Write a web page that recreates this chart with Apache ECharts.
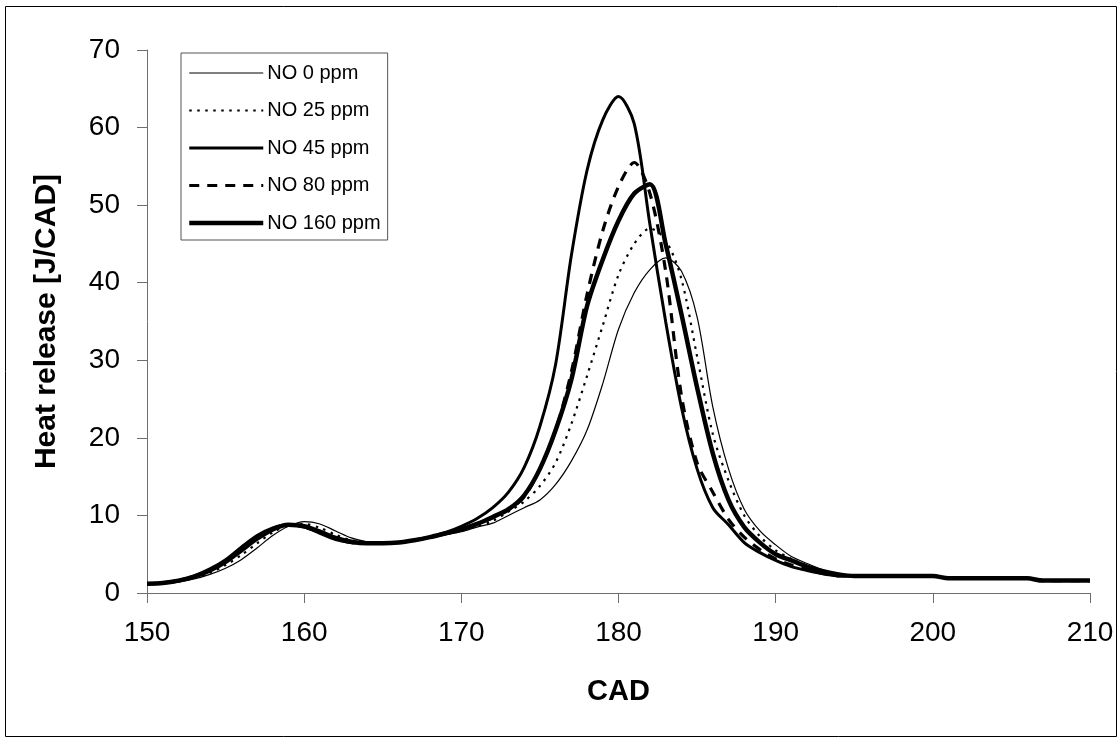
<!DOCTYPE html>
<html>
<head>
<meta charset="utf-8">
<script src="https://cdn.jsdelivr.net/npm/echarts@6/dist/echarts.min.js"></script>
<style>
html,body{margin:0;padding:0;background:#fff;}
#main{width:1120px;height:738px;}
</style>
</head>
<body>
<div id="main"></div>
<script>
// CAD positions (x values)
var cad = [];
for (var c = 150; c <= 210; c++) cad.push(c);

var tail = [2.2,2.2,2.2,2.2,2.2,2.2, 1.9,1.9,1.9,1.9,1.9,1.9, 1.6,1.6,1.6,1.6]; // 195..210

var no0 = [1.2,1.2,1.4,1.8,2.4,3.2,4.3,5.8,7.4,8.6,
           9.2,8.9,8.0,7.1,6.6,6.4,6.5,6.8,7.1,7.5,
           7.9,8.5,9.0,10.0,11.0,12.0,14.0,17.0,21.0,27.0,
           34.0,38.7,41.7,43.2,41.5,35.6,24.0,16.0,10.8,8.0,
           6.2,4.7,3.8,3.0,2.4].concat(tail);
var no25 = [1.2,1.2,1.5,1.9,2.6,3.6,4.9,6.4,7.8,8.7,
            8.9,8.4,7.5,6.8,6.5,6.4,6.5,6.8,7.2,7.6,
            8.0,8.6,9.3,10.5,11.8,13.8,16.8,21.8,28.0,34.5,
            41.0,45.0,47.0,45.5,40.5,30.5,20.5,14.5,10.0,7.3,
            5.5,4.4,3.5,2.8,2.3].concat(tail);
var no45 = [1.2,1.3,1.6,2.2,3.1,4.3,5.9,7.4,8.4,8.8,
            8.5,7.7,6.9,6.5,6.4,6.4,6.5,6.8,7.2,7.8,
            8.6,9.6,11.0,13.0,16.2,21.5,29.5,43.5,54.5,61.0,
            64.0,60.5,47.5,35.0,24.0,16.0,11.0,8.8,6.5,5.2,
            4.2,3.4,2.9,2.5,2.2].concat(tail);
var no80 = [1.2,1.3,1.6,2.1,3.0,4.1,5.6,7.2,8.3,8.8,
            8.6,7.9,7.0,6.5,6.4,6.4,6.5,6.8,7.2,7.7,
            8.3,8.9,9.7,10.7,12.4,16.0,21.0,28.5,38.5,46.7,
            52.4,55.5,51.5,41.5,25.5,16.8,13.0,9.5,7.2,5.6,
            4.4,3.6,3.0,2.5,2.2].concat(tail);
var no160 = [1.2,1.3,1.6,2.1,2.9,4.0,5.5,7.0,8.2,8.8,
             8.6,7.9,7.1,6.6,6.4,6.4,6.5,6.8,7.2,7.7,
             8.2,8.9,9.8,10.8,12.6,16.0,21.0,27.5,37.0,43.0,
             48.0,51.5,52.7,45.0,36.0,26.5,18.0,12.0,8.5,6.5,
             5.0,4.2,3.4,2.8,2.4].concat(tail);

var seriesNames = ['NO 0 ppm','NO 25 ppm','NO 45 ppm','NO 80 ppm','NO 160 ppm'];
var xTicks = [150,160,170,180,190,200,210];
var yTicks = [0,10,20,30,40,50,60,70];

function pairs(arr){ return cad.map(function(x,i){ return [x, arr[i]]; }); }

var FONT = '"Liberation Sans", Arial, sans-serif';
var axisColor = '#6e6e6e';

var styles = [
  {width:1.2, type:'solid'},
  {width:2.2, type:[2.5,5.5]},
  {width:3, type:'solid'},
  {width:3.2, type:[10,8]},
  {width:4.5, type:'solid'}
];
var datas = [no0, no25, no45, no80, no160];

var chart = echarts.init(document.getElementById('main'), null, {renderer:'canvas'});
chart.setOption({
  animation:false,
  backgroundColor:'#fff',
  graphic:[{type:'rect', shape:{x:5.5,y:6.5,width:1111,height:730}, style:{fill:'none', stroke:'#000', lineWidth:1}, silent:true}],
  grid:{left:147, right:30, top:50, bottom:145},
  legend:{
    orient:'vertical', left:181, top:53,
    data: seriesNames.map(function(n,i){
      return {name:n, lineStyle:{width:styles[i].width, type:styles[i].type, color:'#000'}, itemStyle:{opacity:0}};
    }),
    backgroundColor:'#fff', borderColor:'#555', borderWidth:1,
    padding:[10,7,7,6],
    itemWidth:74, itemHeight:14, itemGap:17.5,
    itemStyle:{opacity:0},
    textStyle:{fontFamily:FONT, fontSize:20, lineHeight:20, color:'#000', padding:[0,0,0,-1]}
  },
  xAxis:{
    type:'value', min:150, max:210, interval:10,
    name:'CAD', nameLocation:'middle', nameGap:84,
    nameTextStyle:{fontFamily:FONT, fontSize:29, fontWeight:'bold', color:'#000'},
    axisLine:{show:true, onZero:false, lineStyle:{color:axisColor, width:1}},
    axisTick:{show:true, inside:false, length:10, lineStyle:{color:axisColor}},
    axisLabel:{fontFamily:FONT, fontSize:28, color:'#000', margin:26},
    splitLine:{show:false}
  },
  yAxis:{
    type:'value', min:0, max:70, interval:10,
    name:'Heat release [J/CAD]', nameLocation:'middle', nameGap:85, nameRotate:90,
    nameTextStyle:{fontFamily:FONT, fontSize:30, fontWeight:'bold', color:'#000'},
    axisLine:{show:true, lineStyle:{color:axisColor, width:1}},
    axisTick:{show:true, inside:false, length:10, lineStyle:{color:axisColor}},
    axisLabel:{fontFamily:FONT, fontSize:28, color:'#000', margin:27},
    splitLine:{show:false}
  },
  series: seriesNames.map(function(n,i){
    return {
      name:n, type:'line', data:pairs(datas[i]), symbol:'none', smooth:0.3,
      lineStyle:{color:'#000', width:styles[i].width, type:styles[i].type},
      itemStyle:{color:'#000'},
      z: 2 + i
    };
  })
});
</script>
</body>
</html>
